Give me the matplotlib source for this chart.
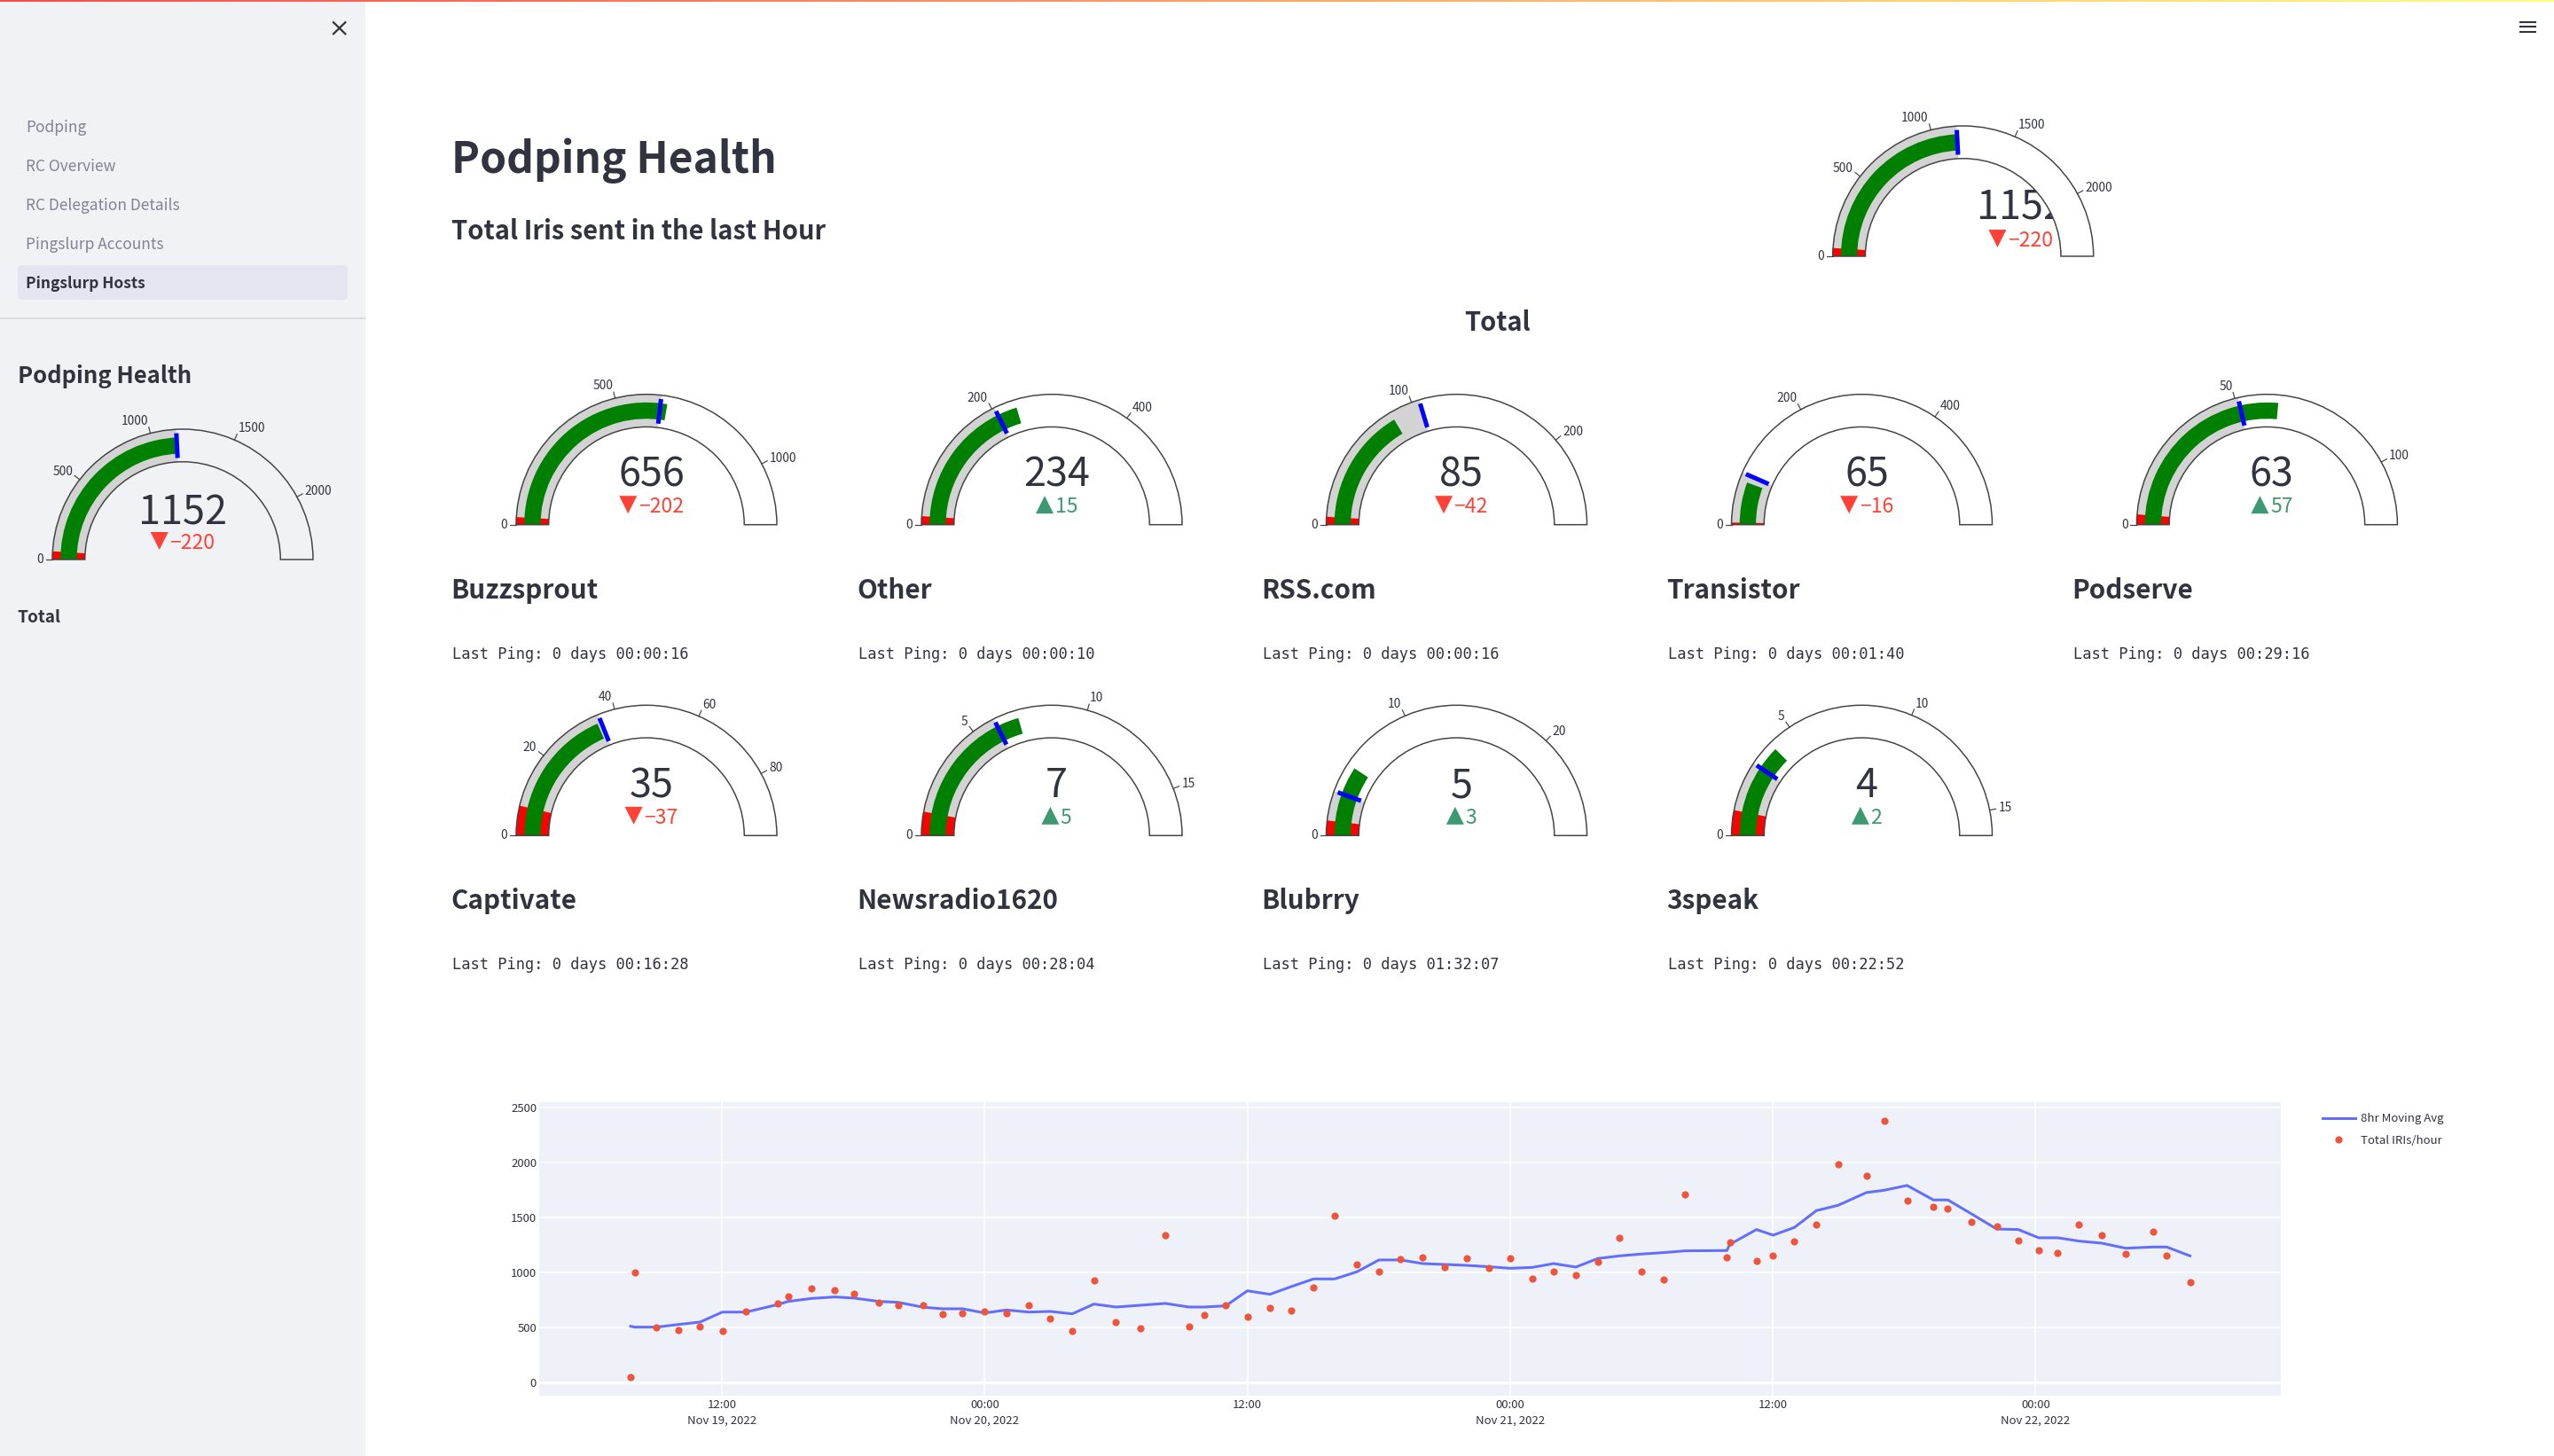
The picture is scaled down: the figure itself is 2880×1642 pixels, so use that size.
import numpy as np
import pandas as pd
import matplotlib
matplotlib.use("Agg")
import matplotlib.pyplot as plt
from matplotlib.patches import Wedge, Polygon, Rectangle, FancyBboxPatch
from matplotlib.colors import LinearSegmentedColormap

W, H = 2880, 1642
SANS = ["Noto Sans CJK JP", "DejaVu Sans"]
MONO = "DejaVu Sans Mono"
DARK = "#31333f"
SIDEBAR = "#f0f2f6"
UP, DOWN = "#3d9970", "#ff4136"

# ----------------------------------------------------------------------------
# DATA
# ----------------------------------------------------------------------------
nav_items = ["Podping", "RC Overview", "RC Delegation Details", "Pingslurp Accounts", "Pingslurp Hosts"]

hosts = ["Buzzsprout", "Other", "RSS.com", "Transistor", "Podserve",
         "Captivate", "Newsradio1620", "Blubrry", "3speak"]
values = [656, 234, 85, 65, 63, 35, 7, 5, 4]
deltas = [-202, 15, -42, -16, 57, -37, 5, 3, 2]
axis_max = [1183, 575, 258, 580, 119, 95, 17, 27, 16]
thresholds = [635, 204, 105, 76, 51, 36, 6, 3, 3]
red_limits = [22, 12, 5, 3, 3, 7, 1, 1, 1]
gauge_ticks = [[0, 500, 1000], [0, 200, 400], [0, 100, 200], [0, 200, 400], [0, 50, 100],
               [0, 20, 40, 60, 80], [0, 5, 10, 15], [0, 10, 20], [0, 5, 10, 15]]
last_ping = ["0 days 00:00:16", "0 days 00:00:10", "0 days 00:00:16", "0 days 00:01:40", "0 days 00:29:16",
             "0 days 00:16:28", "0 days 00:28:04", "0 days 01:32:07", "0 days 00:22:52"]

total_value = 1152
total_delta = -220
total_max = 2380
total_threshold = 1152
total_red = 48
total_ticks = [0, 500, 1000, 1500, 2000]

# hours since 2022-11-19 00:00
hours = [7.83, 8.01, 9.0, 10.02, 11.0, 12.02, 13.1, 14.54, 15.02, 16.09, 17.15, 18.05, 19.17, 20.04, 21.2,
         22.08, 22.99, 24.0, 25.0, 26.03, 27.0, 28.0, 28.99, 30.0, 31.1, 32.25, 33.33, 34.02, 35.01, 36.0,
         37.03, 38.0, 39.02, 39.99, 41.0, 42.01, 43.0, 44.0, 45.01, 46.0, 47.04, 48.0, 49.0, 49.99, 51.0,
         52.0, 52.99, 54.0, 55.01, 56.0, 57.9, 58.03, 59.25, 60.01, 60.98, 61.99, 62.98, 64.27, 65.08, 66.13,
         67.33, 67.99, 69.07, 70.22, 71.21, 72.14, 73.01, 73.98, 75.02, 76.11, 77.37, 77.99, 79.05]
iris_hour = [48, 997, 501, 477, 504, 466, 647, 717, 779, 854, 838, 808, 727, 703, 700,
             617, 625, 641, 630, 698, 579, 463, 929, 547, 493, 1336, 509, 609, 698, 593,
             679, 649, 865, 1519, 1070, 1008, 1121, 1137, 1048, 1126, 1040, 1126, 946, 1008, 973,
             1094, 1315, 1005, 932, 1711, 1137, 1274, 1105, 1156, 1282, 1436, 1986, 1883, 2382, 1654,
             1598, 1579, 1457, 1422, 1293, 1199, 1175, 1436, 1336, 1172, 1371, 1150, 908]
moving_avg = [509, 501, 501, 525, 547, 638, 638, 706, 735, 762, 776, 765, 735, 727, 682,
              668, 668, 630, 657, 638, 644, 622, 711, 684, 700, 717, 684, 684, 695, 832,
              800, 870, 940, 940, 1005, 1113, 1113, 1080, 1072, 1064, 1051, 1037, 1045, 1080, 1048,
              1126, 1150, 1167, 1180, 1196, 1199, 1255, 1390, 1339, 1409, 1563, 1611, 1727, 1748, 1792,
              1660, 1660, 1533, 1395, 1390, 1315, 1315, 1285, 1266, 1220, 1231, 1231, 1150]
x_tick_hours = [12, 24, 36, 48, 60, 72]
x_tick_labels = ["12:00\nNov 19, 2022", "00:00\nNov 20, 2022", "12:00", "00:00\nNov 21, 2022", "12:00", "00:00\nNov 22, 2022"]
y_ticks = [0, 500, 1000, 1500, 2000, 2500]


def fpx(p):
    # font size from pixels at dpi=100
    return p * 0.72


fig = plt.figure(figsize=(W / 100, H / 100), dpi=100, facecolor="white")
bg = fig.add_axes([0, 0, 1, 1])
bg.set_xlim(0, W)
bg.set_ylim(H, 0)
bg.axis("off")
renderer = fig.canvas.get_renderer()

# ----------------------------------------------------------------------------
# PAGE furniture: sidebar, top stripe, menu icons
# ----------------------------------------------------------------------------
bg.add_patch(Rectangle((0, 0), 412, H, fc=SIDEBAR, ec="none", zorder=0))
stripe = LinearSegmentedColormap.from_list("stripe", ["#ff4b4b", "#fffd80"])
bg.imshow(np.linspace(0, 1, 256).reshape(1, -1), extent=(0, W, 2.5, 0), cmap=stripe, aspect="auto", zorder=1)
bg.set_xlim(0, W)
bg.set_ylim(H, 0)

bg.plot([376, 389.4], [25.2, 38.2], color=DARK, lw=1.6, zorder=2)
bg.plot([376, 389.4], [38.2, 25.2], color=DARK, lw=1.6, zorder=2)
for yy in [25, 30.3, 35.7]:
    bg.plot([2841, 2860], [yy, yy], color=DARK, lw=1.5, solid_capstyle="butt", zorder=2)

bg.add_patch(FancyBboxPatch((24, 303), 364, 31, boxstyle="round,pad=4,rounding_size=5", fc="#e3e6ef", ec="none", zorder=1))
bg.plot([0, 412], [359.5, 359.5], color="#d3d6dc", lw=1.1, zorder=1)
nav_base = [149, 193, 237, 281, 325]
for name, yy in zip(nav_items, nav_base):
    active = name == "Pingslurp Hosts"
    bg.text(29, yy, name, fontsize=fpx(17.3), family=SANS, va="baseline", zorder=3,
            color=DARK if active else "#808495", fontweight="bold" if active else "normal")

bg.text(20, 432.5, "Podping Health", fontsize=fpx(25.6), family=SANS, fontweight="bold", color=DARK, va="baseline")
bg.text(19.5, 702.5, "Total", fontsize=fpx(19), family=SANS, fontweight="bold", color=DARK, va="baseline")

bg.text(509, 195, "Podping Health", fontsize=fpx(48), family=SANS, fontweight="bold", color=DARK, va="baseline")
bg.text(509, 270, "Total Iris sent in the last Hour", fontsize=fpx(29.2), family=SANS, fontweight="bold", color=DARK, va="baseline")
bg.text(1688, 373, "Total", fontsize=fpx(29), family=SANS, fontweight="bold", color=DARK, va="baseline", ha="center")


# ----------------------------------------------------------------------------
# GAUGES
# ----------------------------------------------------------------------------
def draw_gauge(cx, cy, value, delta, vmax, threshold, red, ticks, fill="white", text_dx=5.5, number_up=43, delta_up=13.5):
    R = 147.0

    def ang(v):
        # screen angle measured in the y-down data space, 180 -> 360 runs left to right over the top
        return 180 + 180 * v / vmax

    def arc(v0, v1, r0, r1, color, z):
        bg.add_patch(Wedge((cx, cy), R * r1, ang(v0), ang(v1), width=R * (r1 - r0), fc=color, ec="none", zorder=z))

    # number sits under the ring: on the top gauge the ring hides the end of it
    bg.text(cx + text_dx, cy - number_up, str(value), fontsize=fpx(45), family=SANS, color=DARK,
            ha="center", va="baseline", zorder=2)

    color = UP if delta > 0 else DOWN
    label = f"{delta}" if delta > 0 else f"\u2212{abs(delta)}"
    t = bg.text(0, cy - delta_up, label, fontsize=fpx(23), family=SANS, color=color, ha="left", va="baseline", zorder=2)
    tw = t.get_window_extent(renderer).width
    tri_w, tri_h = 20, 20
    left = cx + text_dx - (tri_w + 1.5 + tw) / 2
    t.set_x(left + tri_w + 1.5)
    base_y = cy - delta_up + 1
    if delta > 0:
        tri = [(left, base_y), (left + tri_w, base_y), (left + tri_w / 2, base_y - tri_h)]
    else:
        tri = [(left, base_y - tri_h), (left + tri_w, base_y - tri_h), (left + tri_w / 2, base_y)]
    bg.add_patch(Polygon(tri, closed=True, fc=color, ec="none", zorder=2))

    arc(0, vmax, 0.75, 1.0, fill, 3)
    arc(0, threshold, 0.75, 1.0, "#d3d3d3", 4)
    arc(0, red, 0.75, 1.0, "#ff0000", 5)
    arc(0, value, 0.8125, 0.9375, "#008000", 6)

    th = np.radians(ang(threshold))
    bg.plot([cx + R * 0.78 * np.cos(th), cx + R * 0.97 * np.cos(th)],
            [cy + R * 0.78 * np.sin(th), cy + R * 0.97 * np.sin(th)],
            color="#0000ff", lw=fpx(5), solid_capstyle="butt", zorder=7)

    bg.add_patch(Wedge((cx, cy), R, 180, 360, width=R * 0.25, fc="none", ec="#444444", lw=fpx(1.5), zorder=8))

    for v in ticks:
        th = np.radians(ang(v))
        c, s = np.cos(th), np.sin(th)
        bg.plot([cx + R * c, cx + (R + 7) * c], [cy + R * s, cy + (R + 7) * s], color="#444444", lw=fpx(1.2), zorder=8)
        lx, ly = cx + (R + 10) * c, cy + (R + 9) * s
        ha = "right" if c < -0.02 else "left"
        bg.text(lx, ly + 5 * s, str(v), fontsize=fpx(13.8), family=SANS, color=DARK, ha=ha, va="center", zorder=8)


col_x = [729, 1186, 1642.5, 2099.5, 2556.4]
col_text = [510, 968, 1424, 1881, 2338]
row_y = [591.7, 942.3]
name_base = [675, 1025]
ping_base = [743, 1093]

draw_gauge(2213.7, 289, total_value, total_delta, total_max, total_threshold, total_red, total_ticks,
           text_dx=65, number_up=41, delta_up=11)
draw_gauge(206, 631, total_value, total_delta, total_max, total_threshold, total_red, total_ticks,
           fill=SIDEBAR, text_dx=0, number_up=40, delta_up=12)

for i, host in enumerate(hosts):
    row, col = divmod(i, 5)
    draw_gauge(col_x[col], row_y[row], values[i], deltas[i], axis_max[i], thresholds[i], red_limits[i], gauge_ticks[i])
    bg.text(col_text[col] - 1.5, name_base[row], host, fontsize=fpx(29.7), family=SANS, fontweight="bold", color=DARK, va="baseline")
    bg.text(col_text[col], ping_base[row], "Last Ping: " + last_ping[i], fontsize=fpx(17), family=MONO, color=DARK, va="baseline")

# ----------------------------------------------------------------------------
# TIME SERIES
# ----------------------------------------------------------------------------
left, right, top, bottom = 607.9, 2572, 1242.7, 1574
ax = fig.add_axes([left / W, 1 - bottom / H, (right - left) / W, (bottom - top) / H], facecolor="#eef1f7")
start = pd.Timestamp("2022-11-19")
dates = start + pd.to_timedelta(hours, unit="h")

ax.grid(True, color="white", lw=fpx(1.6))
ax.set_axisbelow(True)
ax.axhline(0, color="white", lw=fpx(3), zorder=1)
ax.plot(dates, moving_avg, color="#636efa", lw=fpx(3), label="8hr Moving Avg", zorder=3)
ax.plot(dates, iris_hour, ls="none", marker="o", ms=fpx(8.2), mec="none", color="#ef553b", label="Total IRIs/hour", zorder=4)

ax.set_xlim(start + pd.Timedelta(hours=3.65), start + pd.Timedelta(hours=83.2))
ax.set_ylim(-124, 2553)
ax.set_xticks(start + pd.to_timedelta(x_tick_hours, unit="h"))
ax.set_xticklabels(x_tick_labels, fontsize=fpx(13.2), family=SANS, color=DARK, linespacing=1.45)
ax.set_yticks(y_ticks)
ax.set_yticklabels([str(v) for v in y_ticks], fontsize=fpx(13.2), family=SANS, color=DARK)
ax.tick_params(length=0, pad=2)
ax.tick_params(axis="x", pad=3)
for side in ax.spines.values():
    side.set_visible(False)

leg = ax.legend(loc="upper left", bbox_to_anchor=(2619, 1255.5), bbox_transform=bg.transData, frameon=False,
                borderpad=0, borderaxespad=0, handlelength=2.8, handletextpad=0.45, labelspacing=0.85,
                prop={"family": SANS, "size": fpx(13.2)}, labelcolor=DARK)

fig.savefig("out.png", dpi=100, facecolor="white")
